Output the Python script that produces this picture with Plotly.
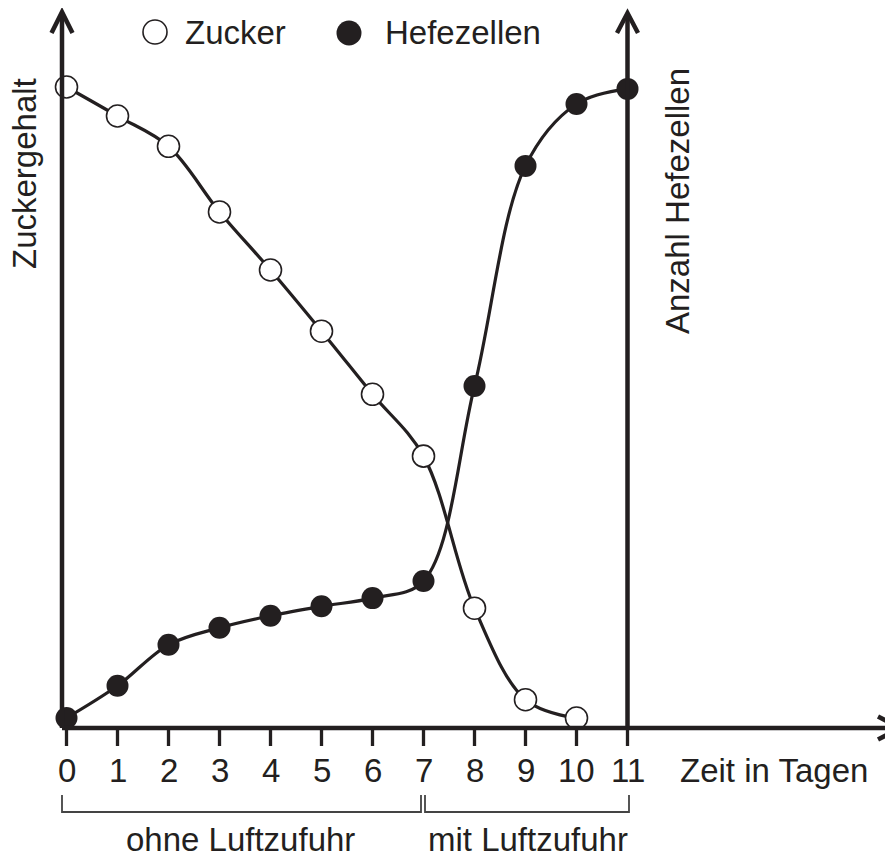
import plotly.graph_objects as go

# ---------------- data ----------------
days = [0, 1, 2, 3, 4, 5, 6, 7, 8, 9, 10, 11]
zucker_days = [0, 1, 2, 3, 4, 5, 6, 7, 8, 9, 10]
zucker = [100, 95.4, 90.6, 80.2, 71.0, 61.3, 51.3, 41.5, 17.4, 2.9, 0]
hefe_days = [0, 1, 2, 3, 4, 5, 6, 7, 8, 9, 10, 11]
hefe = [0, 5.1, 11.6, 14.3, 16.2, 17.7, 19.0, 21.7, 52.6, 87.5, 97.3, 99.7]
tick_vals = [0, 1, 2, 3, 4, 5, 6, 7, 8, 9, 10, 11]
tick_labels = ["0", "1", "2", "3", "4", "5", "6", "7", "8", "9", "10", "11"]
series_names = ["Zucker", "Hefezellen"]
x_title = "Zeit in Tagen"
y_title_left = "Zuckergehalt"
y_title_right = "Anzahl Hefezellen"
phase_labels = ["ohne Luftzufuhr", "mit Luftzufuhr"]
phase_starts = [0, 7]
phase_ends = [7, 11]

# ---------------- geometry helpers (window pixel -> data) ----------------
WIN_W, WIN_H = 893, 856
OFF = 8                      # page body margin
W, H = WIN_W - OFF, WIN_H - OFF
PX0, PXD = 66.5, 51.0        # window pixel of day 0, pixels per day
PY0, PYD = 718.0, 6.31       # window pixel of value 0, pixels per unit


def X(px):
    return (px - PX0) / PXD


def Y(py):
    return (PY0 - py) / PYD


def PX(x):
    return PX0 + x * PXD


DARK = "#231f20"
FONT = "Liberation Sans, Arial, Helvetica, sans-serif"
FS = 33

fig = go.Figure()

fig.add_trace(go.Scatter(
    x=zucker_days, y=zucker, name=series_names[0], mode="lines+markers",
    line=dict(color=DARK, width=3.2, shape="spline", smoothing=1.0),
    marker=dict(size=22, color="white", line=dict(color=DARK, width=1.6)),
    cliponaxis=False,
))
fig.add_trace(go.Scatter(
    x=hefe_days, y=hefe, name=series_names[1], mode="lines+markers",
    line=dict(color=DARK, width=3.2, shape="spline", smoothing=1.0),
    marker=dict(size=22, color=DARK, line=dict(color=DARK, width=0)),
    cliponaxis=False,
))

shapes = []
AXW = 4.5
y_axis_px = 728
# x axis
shapes.append(dict(type="line", x0=X(62), x1=X(898), y0=Y(y_axis_px), y1=Y(y_axis_px),
                   line=dict(color=DARK, width=AXW)))
shapes.append(dict(type="path",
                   path=f"M {X(878)},{Y(y_axis_px - 11.5)} L {X(900)},{Y(y_axis_px)} L {X(878)},{Y(y_axis_px + 11.5)}",
                   line=dict(color=DARK, width=AXW)))
# left y axis
lx = 62
shapes.append(dict(type="line", x0=X(lx), x1=X(lx), y0=Y(y_axis_px), y1=Y(13),
                   line=dict(color=DARK, width=AXW)))
shapes.append(dict(type="path",
                   path=f"M {X(lx - 10.5)},{Y(33)} L {X(lx)},{Y(12)} L {X(lx + 10.5)},{Y(33)}",
                   line=dict(color=DARK, width=AXW)))
# right y axis at day 11
rx = PX(11)
shapes.append(dict(type="line", x0=11, x1=11, y0=Y(y_axis_px), y1=Y(14),
                   line=dict(color=DARK, width=AXW)))
shapes.append(dict(type="path",
                   path=f"M {X(rx - 10.5)},{Y(33)} L {X(rx)},{Y(13)} L {X(rx + 10.5)},{Y(33)}",
                   line=dict(color=DARK, width=AXW)))
# tick marks
for t in tick_vals:
    shapes.append(dict(type="line", x0=t, x1=t, y0=Y(y_axis_px), y1=Y(746),
                       line=dict(color=DARK, width=3.3)))

# phase brackets
BW = 1.8
br_top, br_bot = 795, 812
for i, (s, e) in enumerate(zip(phase_starts, phase_ends)):
    xs = X(62) if i == 0 else X(PX(s) + 1.5)
    xe = X(PX(e) - 2.5) if i == 0 else X(PX(e) + 1.5)
    shapes.append(dict(type="path",
                       path=f"M {xs},{Y(br_top)} L {xs},{Y(br_bot)} L {xe},{Y(br_bot)} L {xe},{Y(br_top)}",
                       line=dict(color="#444444", width=BW)))

# legend keys
shapes.append(dict(type="circle", x0=X(143), x1=X(167), y0=Y(44), y1=Y(20),
                   fillcolor="white", line=dict(color=DARK, width=1.6)))
shapes.append(dict(type="circle", x0=X(336.5), x1=X(361.5), y0=Y(45.5), y1=Y(20.5),
                   fillcolor=DARK, line=dict(color=DARK, width=0)))

annotations = []
tf = dict(family=FONT, size=FS, color=DARK)
for v, lab in zip(tick_vals, tick_labels):
    annotations.append(dict(x=v, y=Y(770), text=lab, showarrow=False,
                            xanchor="center", yanchor="middle", font=tf))
annotations.append(dict(x=X(774), y=Y(770), text=x_title, showarrow=False,
                        xanchor="center", yanchor="middle", font=tf))
annotations.append(dict(x=X(24), y=Y(174), text=y_title_left, textangle=-90, showarrow=False,
                        xanchor="center", yanchor="middle", font=tf))
annotations.append(dict(x=X(677), y=Y(201), text=y_title_right, textangle=-90, showarrow=False,
                        xanchor="center", yanchor="middle", font=tf))
for s, e, lab, cx in zip(phase_starts, phase_ends, phase_labels, [240, 528]):
    annotations.append(dict(x=X(cx), y=Y(839), text=lab, showarrow=False,
                            xanchor="center", yanchor="middle", font=tf))
annotations.append(dict(x=X(183), y=Y(32), text=series_names[0], showarrow=False,
                        xanchor="left", yanchor="middle", font=tf))
annotations.append(dict(x=X(383), y=Y(32), text=series_names[1], showarrow=False,
                        xanchor="left", yanchor="middle", font=tf))

fig.update_layout(
    width=W, height=H, autosize=False,
    margin=dict(l=0, r=0, t=0, b=0, pad=0),
    paper_bgcolor="white", plot_bgcolor="white",
    showlegend=False,
    xaxis=dict(range=[X(OFF), X(WIN_W)], visible=False, fixedrange=True),
    yaxis=dict(range=[Y(WIN_H), Y(OFF)], visible=False, fixedrange=True),
    shapes=shapes, annotations=annotations,
)

fig.write_html("out.html")
